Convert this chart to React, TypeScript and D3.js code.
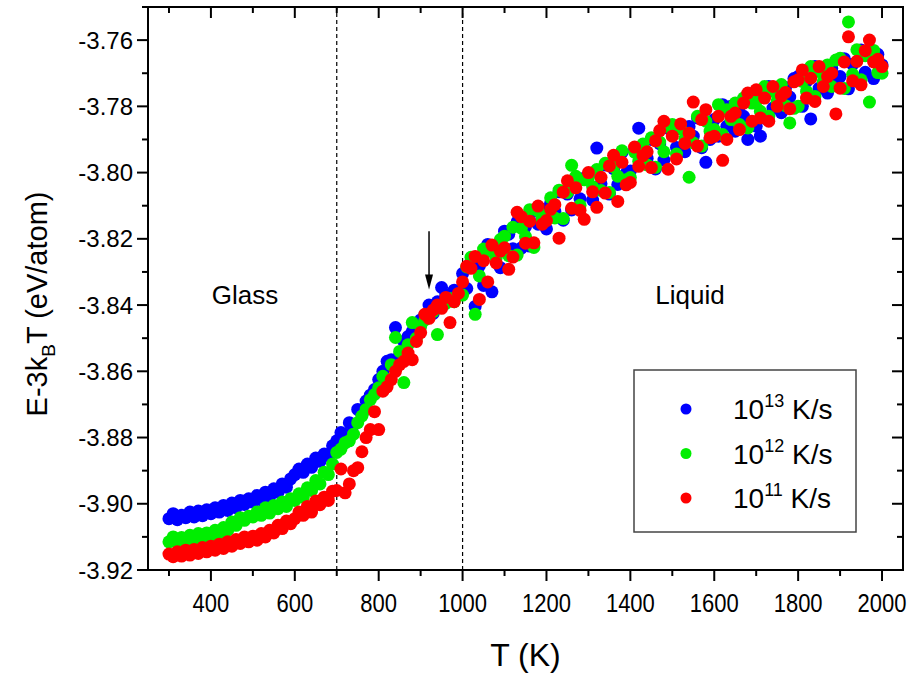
import React from "react";
import * as d3 from "d3";

const temps = [
  300,310,320,330,340,350,360,370,380,390,400,410,420,430,440,450,460,470,480,490,
  500,510,520,530,540,550,560,570,580,590,600,610,620,630,640,650,660,670,680,690,
  700,710,720,730,740,750,760,770,780,790,800,810,820,830,840,850,860,870,880,890,
  900,910,920,930,940,950,960,970,980,990,1000,1010,1020,1030,1040,1050,1060,1070,1080,1090,
  1100,1110,1120,1130,1140,1150,1160,1170,1180,1190,1200,1210,1220,1230,1240,1250,1260,1270,1280,1290,
  1300,1310,1320,1330,1340,1350,1360,1370,1380,1390,1400,1410,1420,1430,1440,1450,1460,1470,1480,1490,
  1500,1510,1520,1530,1540,1550,1560,1570,1580,1590,1600,1610,1620,1630,1640,1650,1660,1670,1680,1690,
  1700,1710,1720,1730,1740,1750,1760,1770,1780,1790,1800,1810,1820,1830,1840,1850,1860,1870,1880,1890,
  1900,1910,1920,1930,1940,1950,1960,1970,1980,1990,2000,
];

const rate13 = [
  -3.9045,-3.9030,-3.9048,-3.9035,-3.9042,-3.9025,-3.9040,-3.9022,-3.9036,-3.9018,
  -3.9030,-3.9012,-3.9025,-3.9005,-3.9020,-3.8998,-3.9012,-3.8990,-3.9002,-3.8985,
  -3.8995,-3.8975,-3.8988,-3.8965,-3.8978,-3.8955,-3.8965,-3.8940,-3.8950,-3.8925,
  -3.8912,-3.8895,-3.8905,-3.8880,-3.8890,-3.8862,-3.8872,-3.8850,-3.8855,-3.8825,
  -3.8810,-3.8785,-3.8790,-3.8755,-3.8762,-3.8715,-3.8730,-3.8690,-3.8672,-3.8655,
  -3.8625,-3.8600,-3.8570,-3.8565,-3.8468,-3.8550,-3.8510,-3.8495,-3.8480,-3.8460,
  -3.8445,-3.8430,-3.8400,-3.8425,-3.8390,-3.8347,-3.8370,-3.8380,-3.8355,-3.8362,
  -3.8305,-3.8350,-3.8269,-3.8404,-3.8282,-3.8341,-3.8217,-3.8360,-3.8228,-3.8287,
  -3.8177,-3.8186,-3.8230,-3.8149,-3.8228,-3.8163,-3.8222,-3.8117,-3.8156,-3.8111,
  -3.8170,-3.8091,-3.8117,-3.8058,-3.8144,-3.8065,-3.8113,-3.8016,-3.8079,-3.8017,
  -3.8010,-3.8083,-3.7926,-3.8034,-3.7977,-3.8065,-3.7988,-3.8036,-3.7939,-3.8002,
  -3.7995,-3.7933,-3.7866,-3.7929,-3.7957,-3.7900,-3.7989,-3.7913,-3.7962,-3.7866,
  -3.7860,-3.7924,-3.7863,-3.7937,-3.7861,-3.7890,-3.7835,-3.7925,-3.7969,-3.7900,
  -3.7840,-3.7890,-3.7795,-3.7860,-3.7800,-3.7875,-3.7800,-3.7830,-3.7900,-3.7770,
  -3.7860,-3.7890,-3.7835,-3.7740,-3.7805,-3.7745,-3.7819,-3.7743,-3.7772,-3.7716,
  -3.7710,-3.7800,-3.7725,-3.7838,-3.7680,-3.7745,-3.7685,-3.7760,-3.7685,-3.7715,
  -3.7710,-3.7656,-3.7747,-3.7673,-3.7724,-3.7630,-3.7697,-3.7639,-3.7716,-3.7643,
  -3.7675,
];

const rate12 = [
  -3.9115,-3.9100,-3.9118,-3.9102,-3.9112,-3.9095,-3.9108,-3.9090,-3.9104,-3.9088,
  -3.9098,-3.9080,-3.9092,-3.9072,-3.9080,-3.9055,-3.9065,-3.9042,-3.9050,-3.9038,
  -3.9040,-3.9025,-3.9035,-3.9012,-3.9028,-3.9005,-3.9015,-3.8995,-3.9008,-3.8985,
  -3.8990,-3.8970,-3.8980,-3.8952,-3.8960,-3.8930,-3.8940,-3.8905,-3.8912,-3.8880,
  -3.8845,-3.8835,-3.8816,-3.8810,-3.8790,-3.8755,-3.8735,-3.8715,-3.8686,-3.8670,
  -3.8650,-3.8615,-3.8625,-3.8580,-3.8498,-3.8540,-3.8634,-3.8520,-3.8453,-3.8500,
  -3.8465,-3.8445,-3.8430,-3.8420,-3.8489,-3.8405,-3.8395,-3.8380,-3.8390,-3.8370,
  -3.8370,-3.8285,-3.8256,-3.8428,-3.8312,-3.8231,-3.8238,-3.8234,-3.8258,-3.8202,
  -3.8192,-3.8251,-3.8165,-3.8249,-3.8168,-3.8193,-3.8112,-3.8226,-3.8116,-3.8141,
  -3.8130,-3.8076,-3.8137,-3.8053,-3.8139,-3.8060,-3.7978,-3.8011,-3.8099,-3.8022,
  -3.8015,-3.8043,-3.7991,-3.8054,-3.7972,-3.8060,-3.7983,-3.8011,-3.7934,-3.8022,
  -3.8015,-3.7938,-3.7966,-3.7914,-3.7977,-3.7895,-3.7984,-3.7908,-3.7937,-3.7861,
  -3.7855,-3.7944,-3.7868,-3.7897,-3.8014,-3.7910,-3.7830,-3.7920,-3.7845,-3.7875,
  -3.7870,-3.7795,-3.7885,-3.7810,-3.7840,-3.7790,-3.7855,-3.7775,-3.7865,-3.7790,
  -3.7785,-3.7815,-3.7740,-3.7830,-3.7755,-3.7785,-3.7734,-3.7798,-3.7850,-3.7806,
  -3.7800,-3.7725,-3.7755,-3.7680,-3.7770,-3.7695,-3.7725,-3.7675,-3.7740,-3.7660,
  -3.7655,-3.7746,-3.7545,-3.7703,-3.7629,-3.7720,-3.7647,-3.7787,-3.7631,-3.7698,
  -3.7700,
];

const rate11 = [
  -3.9152,-3.9160,-3.9145,-3.9158,-3.9140,-3.9155,-3.9138,-3.9150,-3.9132,-3.9145,
  -3.9128,-3.9140,-3.9122,-3.9135,-3.9115,-3.9128,-3.9108,-3.9120,-3.9100,-3.9115,
  -3.9098,-3.9110,-3.9090,-3.9100,-3.9080,-3.9088,-3.9065,-3.9075,-3.9052,-3.9060,
  -3.9045,-3.9025,-3.9035,-3.9008,-3.9025,-3.8992,-3.9003,-3.8980,-3.8990,-3.8962,
  -3.8960,-3.8895,-3.8967,-3.8940,-3.8900,-3.8891,-3.8843,-3.8800,-3.8776,-3.8722,
  -3.8776,-3.8660,-3.8647,-3.8625,-3.8600,-3.8580,-3.8570,-3.8545,-3.8565,-3.8510,
  -3.8483,-3.8428,-3.8440,-3.8415,-3.8400,-3.8410,-3.8377,-3.8453,-3.8390,-3.8365,
  -3.8330,-3.8283,-3.8289,-3.8253,-3.8383,-3.8266,-3.8330,-3.8219,-3.8273,-3.8237,
  -3.8227,-3.8292,-3.8255,-3.8120,-3.8133,-3.8213,-3.8147,-3.8212,-3.8101,-3.8156,
  -3.8145,-3.8111,-3.8097,-3.8198,-3.8059,-3.8025,-3.8108,-3.8046,-3.8114,-3.8141,
  -3.8000,-3.8058,-3.8105,-3.8014,-3.8062,-3.7980,-3.7948,-3.8087,-3.7969,-3.8037,
  -3.8030,-3.7923,-3.7981,-3.7949,-3.7937,-3.7985,-3.7904,-3.7873,-3.7845,-3.7990,
  -3.7890,-3.7959,-3.7853,-3.7912,-3.7881,-3.7787,-3.7920,-3.7840,-3.7810,-3.7895,
  -3.7890,-3.7830,-3.7963,-3.7900,-3.7830,-3.7820,-3.7870,-3.7790,-3.7760,-3.7845,
  -3.7750,-3.7835,-3.7775,-3.7845,-3.7740,-3.7800,-3.7769,-3.7758,-3.7807,-3.7726,
  -3.7720,-3.7690,-3.7775,-3.7715,-3.7785,-3.7680,-3.7740,-3.7710,-3.7700,-3.7823,
  -3.7745,-3.7666,-3.7590,-3.7723,-3.7664,-3.7735,-3.7632,-3.7600,-3.7666,-3.7658,
  -3.7680,
];

const seriesValues = [rate13, rate12, rate11];
const seriesExponents = ["13", "12", "11"];
const seriesColors = ["#0000ff", "#00ee00", "#ff0000"];

const xMajorTicks = [400, 600, 800, 1000, 1200, 1400, 1600, 1800, 2000];
const xMinorTicks = [300, 500, 700, 900, 1100, 1300, 1500, 1700, 1900];
const yMajorTicks = [-3.92, -3.9, -3.88, -3.86, -3.84, -3.82, -3.8, -3.78, -3.76];
const yMinorTicks = [-3.91, -3.89, -3.87, -3.85, -3.83, -3.81, -3.79, -3.77, -3.75];
const dashedTemps = [700, 1000];
const arrowTemp = 920;
const arrowFrom = -3.8177;
const arrowTo = -3.8353;

const W = 918;
const H = 675;
const M = { left: 148, right: 903, top: 7, bottom: 570 };
const FONT = "'Liberation Sans', Arial, sans-serif";

export default function App() {
  const x = d3.scaleLinear().domain([250, 2050]).range([M.left, M.right]);
  const y = d3.scaleLinear().domain([-3.92, -3.75]).range([M.bottom, M.top]);
  const majorLen = 11;
  const minorLen = 6;
  const r = 6.5;

  return (
    <svg
      width={W}
      height={H}
      style={{ position: "absolute", left: 0, top: 0, background: "#fff" }}
      fontFamily={FONT}
    >
      <rect x={0} y={0} width={W} height={H} fill="#fff" />
      <defs>
        <clipPath id="plotClip">
          <rect x={M.left} y={M.top} width={M.right - M.left} height={M.bottom - M.top} />
        </clipPath>
      </defs>

      {dashedTemps.map((t) => (
        <line
          key={t}
          x1={x(t)}
          x2={x(t)}
          y1={M.bottom}
          y2={M.top}
          stroke="#000"
          strokeWidth={1.2}
          strokeDasharray="4,3"
        />
      ))}

      <g clipPath="url(#plotClip)">
        {seriesValues.map((vals, si) => (
          <g key={si} fill={seriesColors[si]}>
            {vals.map((v, i) => (
              <circle key={i} cx={x(temps[i])} cy={y(v)} r={r} />
            ))}
          </g>
        ))}
      </g>

      <line
        x1={x(arrowTemp)}
        x2={x(arrowTemp)}
        y1={y(arrowFrom)}
        y2={y(arrowTo) - 12}
        stroke="#000"
        strokeWidth={1.5}
      />
      <path
        d={`M${x(arrowTemp) - 4},${y(arrowTo) - 15} L${x(arrowTemp) + 4},${y(arrowTo) - 15} L${x(arrowTemp)},${y(arrowTo)} Z`}
        fill="#000"
      />

      <rect
        x={M.left}
        y={M.top}
        width={M.right - M.left}
        height={M.bottom - M.top}
        fill="none"
        stroke="#000"
        strokeWidth={2}
      />

      {xMajorTicks.map((t) => (
        <g key={"xm" + t}>
          <line x1={x(t)} x2={x(t)} y1={M.bottom} y2={M.bottom + majorLen} stroke="#000" strokeWidth={2} />
          <line x1={x(t)} x2={x(t)} y1={M.top} y2={M.top + majorLen} stroke="#000" strokeWidth={2} />
          <text
            transform={`translate(${x(t)}, ${M.bottom + 42}) scale(0.88, 1)`}
            textAnchor="middle"
            fontSize={25}
          >
            {t}
          </text>
        </g>
      ))}
      {xMinorTicks.map((t) => (
        <g key={"xn" + t}>
          <line x1={x(t)} x2={x(t)} y1={M.bottom} y2={M.bottom + minorLen} stroke="#000" strokeWidth={2} />
          <line x1={x(t)} x2={x(t)} y1={M.top} y2={M.top + minorLen} stroke="#000" strokeWidth={2} />
        </g>
      ))}

      {yMajorTicks.map((t) => (
        <g key={"ym" + t}>
          <line x1={M.left - majorLen} x2={M.left} y1={y(t)} y2={y(t)} stroke="#000" strokeWidth={2} />
          <line x1={M.right - majorLen} x2={M.right} y1={y(t)} y2={y(t)} stroke="#000" strokeWidth={2} />
          <text x={M.left - 15} y={y(t)} dy="0.36em" textAnchor="end" fontSize={24}>
            {d3.format(".2f")(t).replace("−", "-")}
          </text>
        </g>
      ))}
      {yMinorTicks.map((t) =>
        y(t) >= M.top ? (
          <g key={"yn" + t}>
            <line x1={M.left - minorLen} x2={M.left} y1={y(t)} y2={y(t)} stroke="#000" strokeWidth={2} />
            <line x1={M.right - minorLen} x2={M.right} y1={y(t)} y2={y(t)} stroke="#000" strokeWidth={2} />
          </g>
        ) : null
      )}

      <text x={(M.left + M.right) / 2} y={666} textAnchor="middle" fontSize={32}>
        T (K)
      </text>
      <text transform="translate(47, 304) rotate(-90)" textAnchor="middle" fontSize={29}>
        E-3k<tspan fontSize={19} dy={8}>B</tspan>
        <tspan dy={-8}>T (eV/atom)</tspan>
      </text>

      <text x={245} y={304} textAnchor="middle" fontSize={26}>
        Glass
      </text>
      <text x={690} y={304} textAnchor="middle" fontSize={26}>
        Liquid
      </text>

      <rect x={634} y={370} width={222} height={162} fill="#fff" stroke="#444" strokeWidth={1.5} />
      {seriesExponents.map((e, i) => (
        <g key={e}>
          <circle cx={686} cy={409 + i * 44.5} r={5.5} fill={seriesColors[i]} />
          <text x={733} y={409 + i * 44.5 + 10} fontSize={28}>
            10<tspan fontSize={18} dy={-12}>{e}</tspan>
            <tspan dy={12}> K/s</tspan>
          </text>
        </g>
      ))}
    </svg>
  );
}
